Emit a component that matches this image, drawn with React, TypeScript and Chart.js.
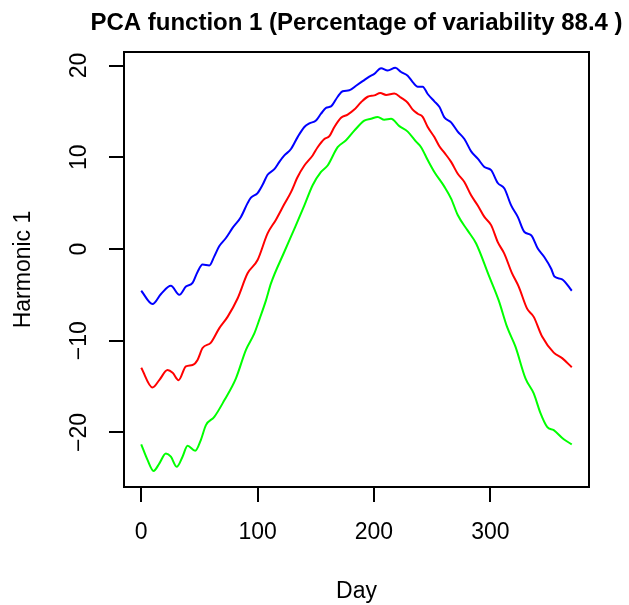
import React, { useEffect, useRef } from 'react';
import { Chart, registerables } from 'chart.js';

Chart.register(...registerables);

const titleText = 'PCA function 1 (Percentage of variability 88.4 )';
const xTitle = 'Day';
const yTitle = 'Harmonic 1';
const xTickValues = [0, 100, 200, 300];
const yTickValues = [-20, -10, 0, 10, 20];
const xRange = [-14.8, 384.8];
const yRange = [-25.95, 21.48];

const blueDays = [0, 9.7, 17, 25.5, 32.7, 38.4, 44.1, 48.4, 52.7, 58.5, 62.8, 67, 72.8, 78.5, 85.7, 91.4, 94.3, 100, 104.3, 108.6, 114.4, 118.7, 123, 128.7, 134.4, 140.2, 144.5, 150.2, 154.5, 158.8, 163.1, 168.8, 173.1, 178.8, 184.6, 190.3, 196, 200.3, 206.1, 211.8, 218.4, 223.3, 229, 233.3, 237.6, 241.9, 246.2, 251.9, 256.2, 260.5, 266.3, 272, 277.7, 283.5, 289.2, 294.9, 300.7, 306.4, 312.1, 317.9, 323.6, 329.3, 335.1, 340.8, 346.5, 352.3, 355.1, 361.7, 370];
const blueValues = [-4.55, -6.0, -4.9, -4.0, -5.0, -4.1, -3.7, -2.5, -1.7, -1.8, -0.8, 0.3, 1.2, 2.3, 3.5, 5.0, 5.6, 6.1, 7.0, 8.1, 8.7, 9.5, 10.2, 10.9, 12.2, 13.3, 13.7, 14.0, 14.75, 15.4, 15.55, 16.6, 17.2, 17.3, 17.8, 18.3, 18.8, 19.1, 19.7, 19.45, 19.75, 19.3, 18.9, 18.2, 17.7, 17.7, 16.9, 16.1, 15.5, 14.35, 13.8, 12.8, 12.0, 10.65, 9.85, 8.95, 8.6, 7.2, 6.6, 4.75, 3.5, 1.85, 1.5, 0.05, -0.9, -2.15, -3.0, -3.3, -4.55];

const redDays = [0, 9.7, 15.5, 22.6, 27, 32.1, 38.4, 44.1, 48.4, 52.7, 59.9, 67, 74.2, 82.8, 91.4, 100, 108.6, 115.8, 123, 128.7, 134.4, 140.2, 147.3, 151.6, 157.4, 161.7, 166, 171.7, 177.4, 183.1, 188.9, 194.6, 200.3, 205.5, 210.4, 217.5, 223.3, 229, 233.3, 237.6, 241.9, 246.2, 251.9, 256.2, 260.5, 266.3, 272, 277.7, 283.5, 289.2, 294.9, 300.7, 306.4, 312, 318.5, 324.4, 331.6, 337.3, 344.5, 354.5, 361.7, 370];
const redValues = [-12.95, -15.1, -14.3, -13.2, -13.5, -14.3, -12.8, -12.65, -12.1, -10.8, -10.2, -8.65, -7.4, -5.4, -2.65, -1.2, 1.7, 3.2, 4.9, 6.2, 7.85, 9.1, 10.2, 11.1, 12.0, 12.3, 13.3, 14.3, 14.65, 15.2, 16.0, 16.6, 16.75, 17.0, 16.8, 16.95, 16.5, 15.95, 15.2, 14.75, 14.4, 13.3, 12.2, 11.2, 10.5, 9.5, 8.2, 7.3, 5.85, 4.75, 3.5, 2.6, 0.75, -0.5, -2.6, -4.1, -6.5, -7.4, -9.55, -11.3, -11.9, -12.9];

const greenDays = [0, 5.4, 10.6, 15.5, 21.2, 25.5, 30.4, 35.5, 39.8, 46.4, 51.3, 55.6, 62.8, 71.4, 81.4, 90, 97.2, 101.5, 107.2, 111.5, 123, 131.6, 140.2, 147.3, 154.5, 160.2, 168.8, 176, 183.1, 191.7, 197.5, 203.2, 208.9, 214.7, 221.8, 229, 236.2, 240.5, 246.2, 251.9, 260.5, 266.3, 272, 280.6, 287.8, 298.6, 307.2, 314.4, 321.6, 330.2, 337.3, 343.1, 348.8, 354.5, 363.1, 370];
const greenValues = [-21.3, -23.0, -24.2, -23.4, -22.3, -22.65, -23.75, -22.65, -21.45, -22.0, -20.8, -19.2, -18.3, -16.5, -14.1, -11.0, -9.2, -7.7, -5.6, -3.75, -0.3, 2.2, 4.75, 6.95, 8.4, 9.1, 11.1, 11.85, 12.9, 14.0, 14.2, 14.4, 14.1, 14.2, 13.4, 12.8, 11.7, 11.1, 9.7, 8.4, 6.8, 5.5, 3.7, 2.0, 0.6, -2.85, -5.6, -8.5, -10.65, -14.1, -15.75, -17.9, -19.4, -19.75, -20.75, -21.3];

const FONT = "'Liberation Sans', Arial, Helvetica, sans-serif";

const toPoints = (xs: number[], ys: number[]) => xs.map((x, i) => ({ x, y: ys[i] }));
const fmt = (v: number | string) => String(v).replace('-', '\u2212');

const rBoxPlugin = {
  id: 'rBox',
  afterLayout(chart: any) {
    const t = chart.titleBlock;
    const ca = chart.chartArea;
    if (t && ca) {
      const center = (ca.left + ca.right) / 2;
      const half = Math.min(center, chart.width - center);
      t.left = center - half;
      t.right = center + half;
      t.width = 2 * half;
    }
  },
  afterDraw(chart: any) {
    const { ctx, chartArea: ca } = chart;
    ctx.save();
    ctx.strokeStyle = '#000';
    ctx.lineWidth = 2;
    ctx.strokeRect(ca.left, ca.top, ca.right - ca.left, ca.bottom - ca.top);
    ctx.restore();
  },
};

export default function App() {
  const ref = useRef<HTMLCanvasElement | null>(null);
  useEffect(() => {
    if (!ref.current) return;
    const axisFont = { family: FONT, size: 23 };
    const grid = { display: true, drawOnChartArea: false, drawTicks: true, tickLength: 15, color: '#000', lineWidth: 2 };
    const chart = new Chart(ref.current, {
      type: 'line',
      data: {
        datasets: [
          { label: 'upper', data: toPoints(blueDays, blueValues), borderColor: '#0000FF' },
          { label: 'mean', data: toPoints(redDays, redValues), borderColor: '#FF0000' },
          { label: 'lower', data: toPoints(greenDays, greenValues), borderColor: '#00FF00' },
        ].map((d) => ({ ...d, borderWidth: 2, pointRadius: 0, fill: false, cubicInterpolationMode: 'monotone' as const })),
      },
      options: {
        responsive: false,
        animation: false,
        layout: { padding: { left: 0, top: 0, right: 40, bottom: 0 } },
        plugins: {
          legend: { display: false },
          tooltip: { enabled: false },
          title: {
            display: true,
            text: titleText,
            color: '#000',
            font: { family: FONT, size: 24, weight: 'bold' },
            padding: { top: 8.8, bottom: 14.4 },
          },
        },
        scales: {
          x: {
            type: 'linear',
            min: xRange[0],
            max: xRange[1],
            afterBuildTicks: (s: any) => { s.ticks = xTickValues.map((v) => ({ value: v })); },
            afterFit: (s: any) => { s.height = 118; },
            ticks: { font: axisFont, color: '#000', padding: 17, maxRotation: 0, autoSkip: false, callback: fmt },
            title: { display: true, text: xTitle, color: '#000', font: axisFont, padding: { top: 0, bottom: 0 } },
            grid,
            border: { display: false },
          },
          y: {
            type: 'linear',
            min: yRange[0],
            max: yRange[1],
            afterBuildTicks: (s: any) => { s.ticks = yTickValues.map((v) => ({ value: v })); },
            afterFit: (s: any) => { s.width = 124; },
            ticks: { font: axisFont, color: '#000', padding: 9.5, minRotation: 90, maxRotation: 90, crossAlign: 'center', autoSkip: false, callback: fmt },
            title: { display: true, text: yTitle, color: '#000', font: axisFont, padding: { top: 10, bottom: 0 } },
            grid,
            border: { display: false },
          },
        },
      } as any,
      plugins: [rBoxPlugin],
    });
    return () => chart.destroy();
  }, []);
  return (
    <div style={{ position: 'absolute', left: 0, top: 0, width: 629, height: 605, background: '#fff' }}>
      <canvas ref={ref} width={629} height={605} style={{ display: 'block' }} />
    </div>
  );
}
